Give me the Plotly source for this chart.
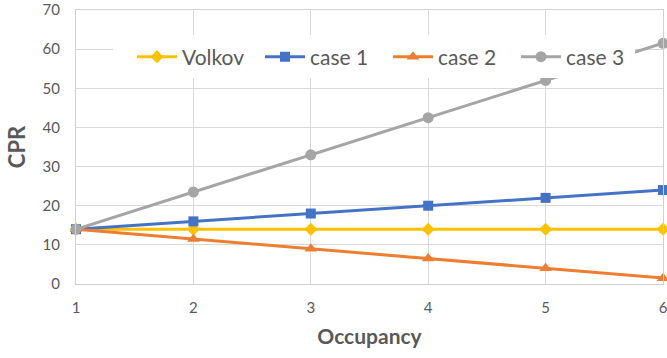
import plotly.graph_objects as go

occupancy = [1, 2, 3, 4, 5, 6]
volkov = [14, 14, 14, 14, 14, 14]
case1 = [14, 16, 18, 20, 22, 24]
case2 = [14, 11.5, 9, 6.5, 4, 1.5]
case3 = [14, 23.5, 33, 42.5, 52, 61.5]
y_ticks = [0, 10, 20, 30, 40, 50, 60, 70]

series = [
    ("Volkov", volkov, "#FFC000", "diamond", 10),
    ("case 1", case1, "#4472C4", "square", 10),
    ("case 2", case2, "#ED7D31", "triangle-up", 11),
    ("case 3", case3, "#A5A5A5", "circle", 11),
]

fig = go.Figure()
for name, vals, color, sym, size in series:
    fig.add_trace(go.Scatter(
        x=occupancy, y=vals, name=name, mode="lines+markers",
        line=dict(color=color, width=3),
        marker=dict(symbol=sym, size=size, color=color),
        cliponaxis=False,
    ))

# plot area in pixels: left 76, right 663, top 10, bottom 284
L, R, T, B = 76, 663, 10, 284
px = lambda v: (v - L) / (R - L)
py = lambda v: (B - v) / (B - T)

# white legend panel sitting over the plotted lines
fig.add_shape(type="rect", xref="paper", yref="paper",
              x0=px(113), x1=px(635), y0=py(78), y1=py(35),
              fillcolor="white", line=dict(width=0), layer="above")

font_family = "Lato, Open Sans, sans-serif"
axis_common = dict(
    showgrid=True, gridcolor="#D9D9D9", gridwidth=1, zeroline=False,
    showline=True, linecolor="#D0D0D0", linewidth=1, mirror=True,
    tickfont=dict(size=15), ticks="", ticklabeloverflow="allow",
    automargin=False,
)
fig.update_layout(
    width=667, height=358,
    margin=dict(l=L, r=667 - R, t=T, b=358 - B),
    paper_bgcolor="white", plot_bgcolor="white",
    font=dict(family=font_family, color="#595959"),
    showlegend=True,
    legend=dict(
        orientation="h", x=px(132), xanchor="left", y=py(57), yanchor="middle",
        bgcolor="rgba(0,0,0,0)", font=dict(size=21, color="#595959"),
        entrywidth=73, entrywidthmode="pixels", itemwidth=40,
        traceorder="normal",
    ),
    xaxis=dict(
        range=[1, 6], tickvals=occupancy, ticklabelstandoff=10,
        title=dict(text="<b>Occupancy</b>", font=dict(size=21), standoff=14),
        **axis_common,
    ),
    yaxis=dict(
        range=[0, 70], tickvals=y_ticks, ticklabelstandoff=12,
        title=dict(text="<b>CPR</b>", font=dict(size=22), standoff=10),
        **axis_common,
    ),
)

fig.write_html("out.html")
